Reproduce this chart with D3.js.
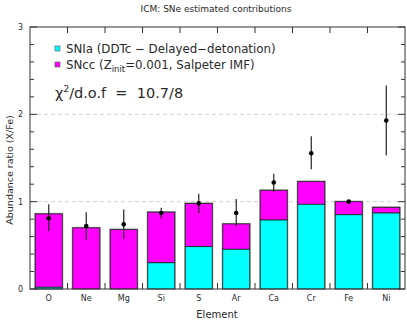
<!DOCTYPE html>
<html>
<head>
<meta charset="utf-8">
<script src="https://cdn.jsdelivr.net/npm/d3@7"></script>
<style>
  body { margin: 0; background: #fff; }
  svg { display: block; }
  text { white-space: pre; }
</style>
</head>
<body>
<div id="chart"></div>
<script>
const elements = ["O", "Ne", "Mg", "Si", "S", "Ar", "Ca", "Cr", "Fe", "Ni"];
const snIa = [0.02, 0.0, 0.0, 0.30, 0.485, 0.455, 0.79, 0.97, 0.85, 0.87];
const snTotal = [0.86, 0.70, 0.68, 0.88, 0.98, 0.745, 1.13, 1.23, 1.00, 0.935];
const observed = [0.81, 0.72, 0.74, 0.87, 0.98, 0.87, 1.22, 1.555, 1.00, 1.93];
const errLow = [0.66, 0.56, 0.57, 0.81, 0.87, 0.72, 1.11, 1.37, 0.99, 1.53];
const errHigh = [0.97, 0.88, 0.91, 0.93, 1.09, 1.03, 1.32, 1.75, 1.01, 2.33];
const yTicks = [0, 1, 2, 3];

const W = 407, H = 322;
const margin = { top: 27, right: 2, bottom: 33, left: 30 };
const width = W - margin.left - margin.right,
      height = H - margin.top - margin.bottom;
const font = "'DejaVu Sans', 'Liberation Sans', sans-serif";
const ink = "#2a2a2a";

const svg = d3.select("#chart").append("svg")
  .attr("width", W).attr("height", H)
  .style("font-family", font);

const g = svg.append("g").attr("transform", `translate(${margin.left},${margin.top})`);

const x = d3.scaleBand().domain(elements).range([0, width]).paddingInner(0.28).paddingOuter(0.14);
const xb = d3.scaleLinear().domain([0, elements.length]).range([0, width]);
const y = d3.scaleLinear().domain([0, 3]).range([height, 0]);

// dashed grid
g.selectAll(".grid").data([1, 2]).enter().append("line")
  .attr("x1", 0).attr("x2", width)
  .attr("y1", d => y(d)).attr("y2", d => y(d))
  .attr("stroke", "#d0d0d0").attr("stroke-dasharray", "4,3");

const data = elements.map((e, i) => ({ e, ia: snIa[i], tot: snTotal[i], obs: observed[i], lo: errLow[i], hi: errHigh[i] }));

// bar shadow
g.selectAll(".shadow").data(data).enter().append("rect")
  .attr("x", d => x(d.e) - 1).attr("y", d => y(d.tot) - 1)
  .attr("width", x.bandwidth() + 2).attr("height", d => height - y(d.tot) + 1)
  .attr("fill", "#909090");

g.selectAll(".cc").data(data).enter().append("rect")
  .attr("x", d => x(d.e)).attr("y", d => y(d.tot))
  .attr("width", x.bandwidth()).attr("height", d => y(d.ia) - y(d.tot))
  .attr("fill", "#ff00ff").attr("stroke", "#222").attr("stroke-width", 0.8);

g.selectAll(".ia").data(data.filter(d => d.ia > 0)).enter().append("rect")
  .attr("x", d => x(d.e)).attr("y", d => y(d.ia))
  .attr("width", x.bandwidth()).attr("height", d => height - y(d.ia))
  .attr("fill", "#00ffff").attr("stroke", "#222").attr("stroke-width", 0.8);

// error bars
g.selectAll(".err").data(data).enter().append("line")
  .attr("x1", d => x(d.e) + x.bandwidth() / 2).attr("x2", d => x(d.e) + x.bandwidth() / 2)
  .attr("y1", d => y(d.lo)).attr("y2", d => y(d.hi))
  .attr("stroke", "#222").attr("stroke-width", 1.2);

g.selectAll(".pt").data(data).enter().append("circle")
  .attr("cx", d => x(d.e) + x.bandwidth() / 2).attr("cy", d => y(d.obs))
  .attr("r", 2.3).attr("fill", "#000");

// frame
g.append("rect").attr("width", width).attr("height", height)
  .attr("fill", "none").attr("stroke", "#333").attr("stroke-width", 1);

// y ticks (both sides, inward)
const minor = d3.range(0, 3.001, 0.2);
[0, width].forEach((px, side) => {
  const dir = side === 0 ? 1 : -1;
  g.selectAll(null).data(minor).enter().append("line")
    .attr("x1", px).attr("x2", d => px + dir * (Math.abs(d - Math.round(d)) < 1e-6 ? 7 : 4))
    .attr("y1", d => y(d)).attr("y2", d => y(d))
    .attr("stroke", "#333");
});

// x boundary ticks (top and bottom, inward)
const bounds = d3.range(1, elements.length);
g.selectAll(null).data(bounds).enter().append("line")
  .attr("x1", d => xb(d)).attr("x2", d => xb(d))
  .attr("y1", height).attr("y2", height - 6).attr("stroke", "#333");
g.selectAll(null).data(bounds).enter().append("line")
  .attr("x1", d => xb(d)).attr("x2", d => xb(d))
  .attr("y1", 0).attr("y2", 6).attr("stroke", "#333");

// tick labels
g.selectAll(null).data(yTicks).enter().append("text")
  .attr("x", -7).attr("y", d => y(d) + 3)
  .attr("text-anchor", "end").style("font-size", "8px").attr("fill", ink)
  .text(d => d);

g.selectAll(null).data(elements).enter().append("text")
  .attr("x", d => x(d) + x.bandwidth() / 2).attr("y", height + 12)
  .attr("text-anchor", "middle").style("font-size", "8px").attr("fill", ink)
  .text(d => d);

// axis titles
svg.append("text").attr("x", 217).attr("y", 318)
  .attr("text-anchor", "middle").style("font-size", "10px").attr("fill", ink)
  .text("Element");

svg.append("text").attr("transform", "rotate(-90)")
  .attr("x", -170).attr("y", 13)
  .attr("text-anchor", "middle").style("font-size", "9.5px").attr("fill", ink)
  .text("Abundance ratio (X/Fe)");

svg.append("text").attr("x", 216).attr("y", 12)
  .attr("text-anchor", "middle").style("font-size", "9px").attr("fill", ink)
  .text("ICM: SNe estimated contributions");

// legend
const legend = [
  { color: "#00ffff", y: 49 },
  { color: "#ff00ff", y: 65 }
];
svg.selectAll(".lg").data(legend).enter().append("rect")
  .attr("x", 55).attr("y", d => d.y - 3).attr("width", 5).attr("height", 5)
  .attr("fill", d => d.color).attr("stroke", "#555").attr("stroke-width", 0.6);

svg.append("text").attr("x", 66).attr("y", 53)
  .style("font-size", "11.8px").attr("fill", ink)
  .text("SNIa (DDTc \u2212 Delayed\u2212detonation)");

const t2 = svg.append("text").attr("x", 66).attr("y", 69)
  .style("font-size", "11.8px").attr("fill", ink);
t2.append("tspan").text("SNcc (Z");
t2.append("tspan").attr("dy", 3).style("font-size", "8.5px").text("init");
t2.append("tspan").attr("dy", -3).text("=0.001, Salpeter IMF)");

const t3 = svg.append("text").attr("x", 55).attr("y", 98)
  .style("font-size", "14.5px").attr("fill", ink);
t3.append("tspan").text("\u03c7");
t3.append("tspan").attr("dy", -6).style("font-size", "9px").text("2");
t3.append("tspan").attr("dy", 6).text("/d.o.f  =  10.7/8");
</script>
</body>
</html>
